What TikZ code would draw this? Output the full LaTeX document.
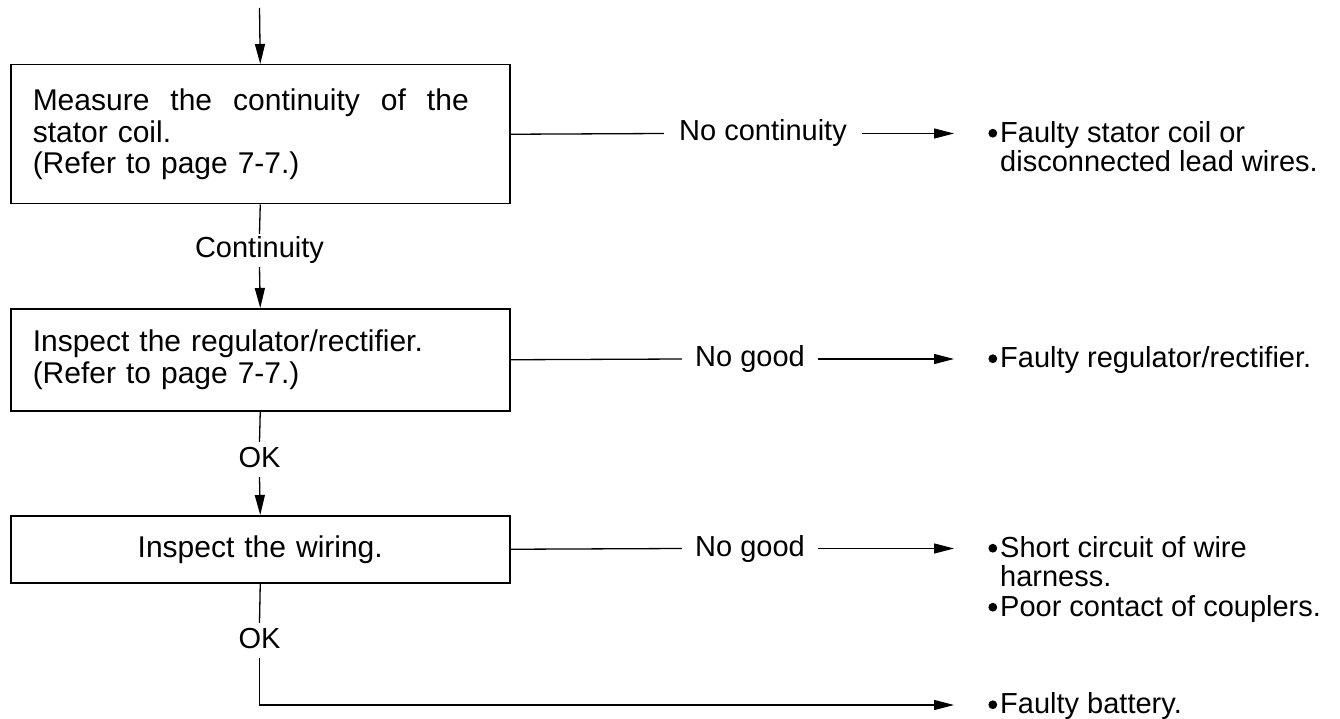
\documentclass[tikz,border=0pt]{standalone}
\usepackage{fontspec}
\setmainfont{Liberation Sans}
\usetikzlibrary{arrows.meta}
% round bullet hanging left of the first word of a result line
\newcommand{\resbullet}{\llap{\tikz[baseline=0pt]\fill (0pt,9pt) circle (4.4pt);\hspace{3pt}}}
\begin{document}
\begin{tikzpicture}[x=1pt,y=-1pt,
  every node/.style={font=\fontsize{29}{31.5}\selectfont},
  stepbox/.style={draw, line width=1.5pt, anchor=north west, minimum width=499pt,
    text width=455pt, inner xsep=22pt, inner ysep=0pt,
    font=\fontsize{30}{31.5}\selectfont},
  lbl/.style={inner xsep=13pt, inner ysep=3pt, text height=21pt, text depth=6pt},
  result/.style={anchor=north west, inner sep=0pt, align=left,
    font=\fontsize{29}{29.5}\selectfont},
  conn/.style={line width=1.3pt},
  arr/.style={conn, -{Triangle[length=20pt,width=10pt]}}
]
\fill[white] (0,0) rectangle (1340,719);
\useasboundingbox (0,0) rectangle (1340,719);

% entry point and the common x of all arrow tips on the right
\coordinate (start) at (259.5,8);
\coordinate (tip) at (954,0);

% check steps
\node[stepbox, minimum height=139pt, align=left] (b1) at (10,64)
  {\hbox to 436pt{Measure\hfil the\hfil continuity\hfil of\hfil the}\\stator coil.\\(Refer to page 7-7.)};
\node[stepbox, minimum height=102pt, align=left] (b2) at (10,308)
  {Inspect the regulator/rectifier.\\(Refer to page 7-7.)};
\node[stepbox, minimum height=67pt, align=center] (b3) at (10,515)
  {Inspect the wiring.};

% labels on the vertical flow
\node[lbl] (c1) at (259.5,250.5) {Continuity};
\node[lbl, inner ysep=4pt] (ok1) at (259.5,459.5) {OK};
\node[lbl, inner ysep=4pt] (ok2) at (259.5,640.5) {OK};

\draw[arr] (start) -- (b1.north);
\draw[conn] (b1.south) -- (c1.north);
\draw[arr] (c1.south) -- (b2.north);
\draw[conn] (b2.south) -- (ok1.north);
\draw[arr] (ok1.south) -- (b3.north);
\draw[conn] (b3.south) -- (ok2.north);

% labels on the branches
\node[lbl, inner xsep=15pt] (n1) at (763,133.5) {No continuity};
\node[lbl] (n2) at (750,359) {No good};
\node[lbl] (n3) at (750,548.5) {No good};

% results
\node[result] (r1) at (1000,121) {\resbullet Faulty stator coil or\\disconnected lead wires.};
\node[result] (r2) at (1000,346.5) {\resbullet Faulty regulator/rectifier.};
\node[result] (r3) at (1000,536) {\resbullet Short circuit of wire\\harness.\\\resbullet Poor contact of couplers.};
\node[result] (r4) at (1000,692.5) {\resbullet Faulty battery.};

% branch connectors
\draw[conn] (b1.east) -- (n1.west);
\draw[arr] (n1.east) -- (n1.east -| tip);
\draw[conn] (b2.east) -- (n2.west);
\draw[arr] (n2.east) -- (n2.east -| tip);
\draw[conn] (b3.east) -- (n3.west);
\draw[arr] (n3.east) -- (n3.east -| tip);

\coordinate (corner) at (259.5,705);
\draw[arr] (ok2.south) -- (corner) -- (corner -| tip);
\end{tikzpicture}
\end{document}
